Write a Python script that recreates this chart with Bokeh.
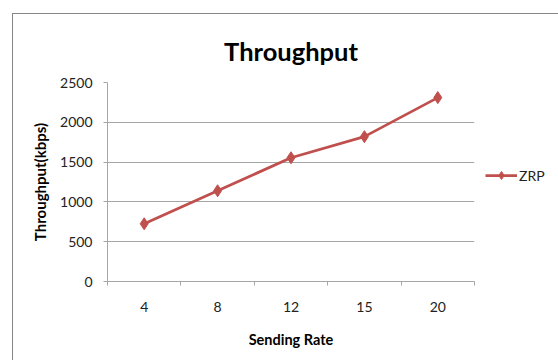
from bokeh.plotting import figure
from bokeh.models import Range1d, FixedTicker, Legend, LegendItem
from bokeh.embed import file_html
from bokeh.resources import INLINE

categories = ["4", "8", "12", "15", "20"]
zrp = [725, 1140, 1555, 1820, 2310]
y_ticks = [0, 500, 1000, 1500, 2000, 2500]

FONT = "Lato"
RED = "#C0504D"
GRID = "#A6A6A6"

xs = [i + 0.5 for i in range(len(categories))]

p = figure(width=544, height=346, output_backend="svg", toolbar_location=None,
           x_range=Range1d(0, len(categories)), y_range=Range1d(0, 2500),
           frame_width=367, frame_height=199,
           min_border_left=94, min_border_right=83, min_border_top=68, min_border_bottom=79)
p.styles = {"border-top": "1px solid #868686", "border-left": "1px solid #868686",
            "margin-left": "12px", "margin-top": "13px"}

p.title.text = "Throughput"
p.title.align = "center"
p.title.text_font = FONT
p.title.text_font_size = "25.5px"
p.title.text_font_style = "bold"
p.title.text_color = "#000000"
p.title.standoff = 33

p.outline_line_color = None
p.background_fill_color = "white"
p.border_fill_color = "white"

# x axis: labels at category centres, ticks at category boundaries
p.xaxis.ticker = FixedTicker(ticks=xs, minor_ticks=list(range(len(categories) + 1)))
p.xaxis.major_label_overrides = {x: c for x, c in zip(xs, categories)}
p.xaxis.major_tick_out = 0
p.xaxis.major_tick_in = 0
p.xaxis.minor_tick_out = 4
p.xaxis.minor_tick_in = 0
p.xaxis.minor_tick_line_color = GRID
p.xaxis.axis_line_color = GRID
p.xaxis.major_label_standoff = 16
p.xaxis.axis_label = "Sending Rate"
p.xaxis.axis_label_standoff = 16
p.xgrid.visible = False

p.yaxis.ticker = FixedTicker(ticks=y_ticks)
p.yaxis.major_tick_out = 4
p.yaxis.major_tick_in = 0
p.yaxis.minor_tick_line_color = None
p.yaxis.major_tick_line_color = GRID
p.yaxis.axis_line_color = GRID
p.yaxis.major_label_standoff = 11
p.yaxis.axis_label = "Throughput(kbps)"
p.yaxis.axis_label_standoff = 8
p.ygrid.grid_line_color = GRID
p.ygrid.ticker = FixedTicker(ticks=y_ticks)

for ax in (p.xaxis, p.yaxis):
    ax.major_label_text_font = FONT
    ax.major_label_text_font_size = "14px"
    ax.major_label_text_color = "#222222"
    ax.axis_label_text_font = FONT
    ax.axis_label_text_font_style = "bold"
    ax.axis_label_text_color = "#000000"
p.xaxis.axis_label_text_font_size = "14.5px"
p.yaxis.axis_label_text_font_size = "15px"

ln = p.line(xs, zrp, line_color=RED, line_width=2.75)
mk = p.scatter(xs, zrp, marker="diamond", size=12, fill_color=RED, line_color=RED)

legend = Legend(items=[LegendItem(label="ZRP", renderers=[ln, mk])],
                location=(11, 96), padding=0, margin=0, spacing=0,
                glyph_width=32, glyph_height=20, label_standoff=2,
                border_line_color=None, background_fill_alpha=0,
                label_text_font=FONT, label_text_font_size="14px",
                label_text_color="#222222")
p.add_layout(legend, "right")

open("out.html", "w").write(file_html(p, INLINE))
